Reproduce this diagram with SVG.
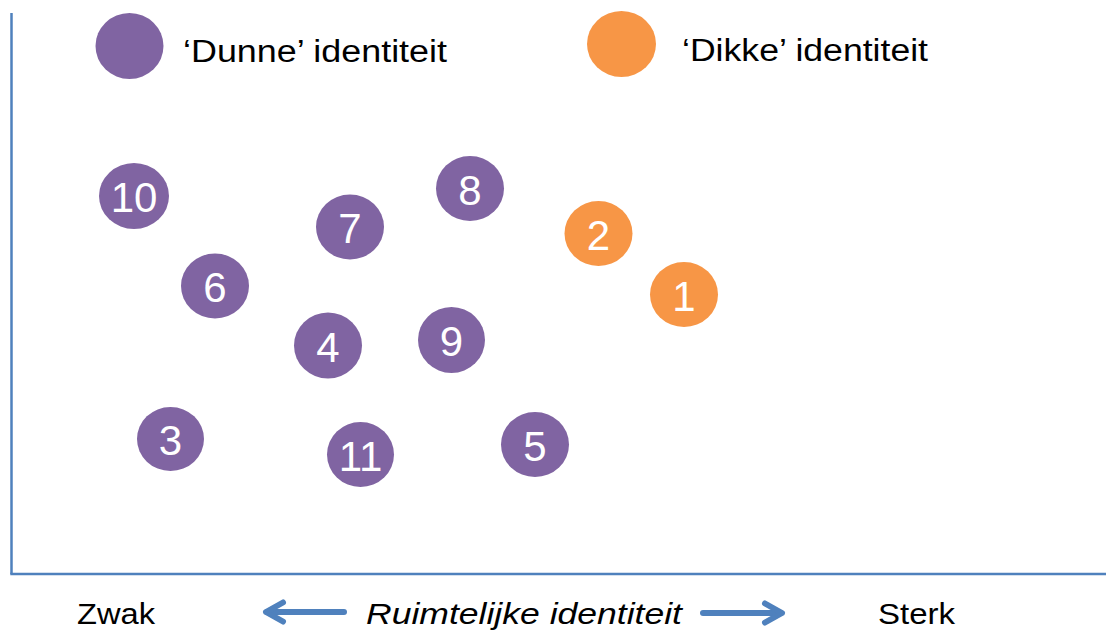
<svg xmlns="http://www.w3.org/2000/svg" width="1106" height="633" viewBox="0 0 1106 633">
<style>
.thin{fill:#8064A2}
.thick{fill:#F79646}
.num{font-family:"Liberation Sans",Arial,sans-serif;font-size:42px;fill:#FFFFFF;text-anchor:middle}
.lbl{font-family:"Liberation Sans",Arial,sans-serif;font-size:31px;fill:#000000}
.axis{font-family:"Liberation Sans",Arial,sans-serif;font-size:30px;fill:#000000}
.ax{stroke:#4F81BD;stroke-width:2.5;fill:none}
.arr{stroke:#4F81BD;stroke-width:6;fill:none;stroke-linecap:round;stroke-linejoin:round}
</style>
<rect width="1106" height="633" fill="#FFFFFF"/>
<g id="axes">
<line class="ax" x1="11.5" y1="13" x2="11.5" y2="574"/>
<line class="ax" x1="10.3" y1="574" x2="1106" y2="574"/>
</g>
<g id="legend-dunne">
<ellipse class="thin" cx="129.5" cy="46" rx="34" ry="33"/>
<text class="lbl" x="183" y="62" textLength="264" lengthAdjust="spacingAndGlyphs">‘Dunne’ identiteit</text>
</g>
<g id="legend-dikke">
<ellipse class="thick" cx="621.5" cy="44" rx="34.5" ry="33"/>
<text class="lbl" x="682" y="61" textLength="246" lengthAdjust="spacingAndGlyphs">‘Dikke’ identiteit</text>
</g>
<g id="node-10"><ellipse class="thin" cx="134" cy="196" rx="35" ry="33"/><text class="num" x="134" y="212">10</text></g>
<g id="node-7"><ellipse class="thin" cx="350" cy="227" rx="34" ry="32.5"/><text class="num" x="350" y="243">7</text></g>
<g id="node-8"><ellipse class="thin" cx="470" cy="188.5" rx="34" ry="32.5"/><text class="num" x="470" y="204.5">8</text></g>
<g id="node-6"><ellipse class="thin" cx="215" cy="286" rx="34" ry="32.5"/><text class="num" x="215" y="302">6</text></g>
<g id="node-4"><ellipse class="thin" cx="328" cy="345.5" rx="34" ry="33"/><text class="num" x="328" y="361.5">4</text></g>
<g id="node-9"><ellipse class="thin" cx="451.5" cy="340" rx="33.5" ry="33"/><text class="num" x="451.5" y="356">9</text></g>
<g id="node-3"><ellipse class="thin" cx="170.5" cy="439" rx="33.5" ry="32"/><text class="num" x="170.5" y="455">3</text></g>
<g id="node-11"><ellipse class="thin" cx="360.5" cy="454.5" rx="33.5" ry="32.5"/><text class="num" x="360.5" y="470.5">11</text></g>
<g id="node-5"><ellipse class="thin" cx="535" cy="444.5" rx="34" ry="32.5"/><text class="num" x="535" y="460.5">5</text></g>
<g id="node-2"><ellipse class="thick" cx="598.5" cy="233.5" rx="34" ry="32.5"/><text class="num" x="598.5" y="249.5">2</text></g>
<g id="node-1"><ellipse class="thick" cx="684" cy="294.5" rx="34" ry="32.5"/><text class="num" x="684" y="310.5">1</text></g>
<g id="axis-labels">
<text class="axis" x="77" y="624" textLength="78" lengthAdjust="spacingAndGlyphs">Zwak</text>
<text class="axis" x="366" y="624" font-style="italic" textLength="316" lengthAdjust="spacingAndGlyphs">Ruimtelijke identiteit</text>
<text class="axis" x="878" y="624" textLength="77" lengthAdjust="spacingAndGlyphs">Sterk</text>
</g>
<g id="connectors">
<line class="arr" x1="267" y1="612" x2="344" y2="612"/>
<polyline class="arr" points="283,602.5 266,612 283,621.5"/>
<line class="arr" x1="703" y1="613" x2="780" y2="613"/>
<polyline class="arr" points="765,603.5 782,613 765,622.5"/>
</g>
</svg>
